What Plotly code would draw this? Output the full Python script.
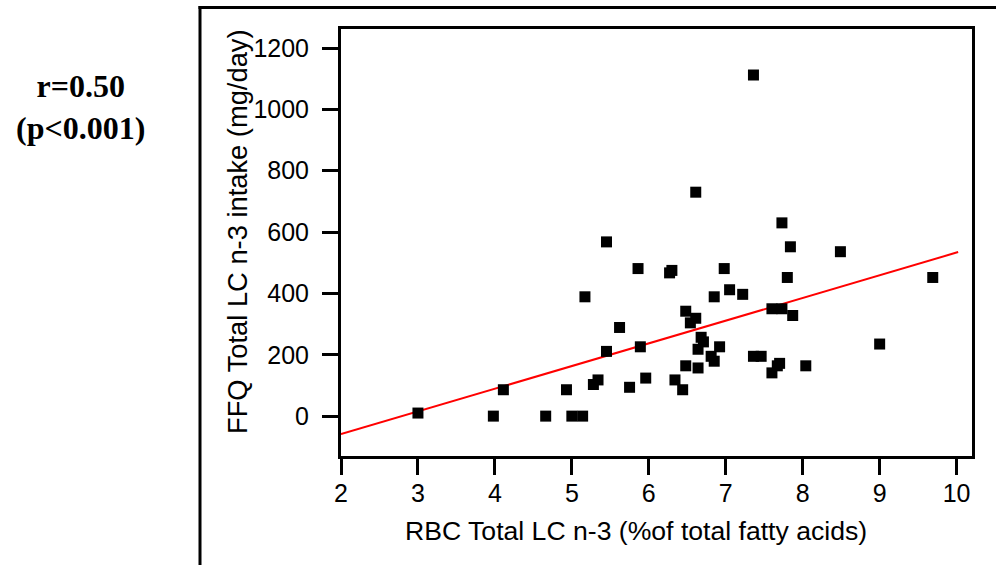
import plotly.graph_objects as go

# ---- data ----
rbc_lc_n3 = [3.0, 3.98, 4.11, 4.66, 4.93, 5.0, 5.14, 5.17, 5.28, 5.34,
             5.45, 5.45, 5.62, 5.75, 5.86, 5.89, 5.96, 6.27, 6.30, 6.34,
             6.44, 6.48, 6.48, 6.54, 6.61, 6.61, 6.64, 6.64, 6.68, 6.71,
             6.81, 6.85, 6.85, 6.92, 6.98, 7.05, 7.22, 7.36, 7.36, 7.46,
             7.60, 7.60, 7.67, 7.70, 7.73, 7.73, 7.80, 7.84, 7.87, 8.04,
             8.49, 9.0, 9.69]
ffq_lc_n3 = [10, 0, 86, 0, 86, 0, 0, 389, 103, 118,
             568, 211, 289, 94, 481, 226, 124, 467, 475, 118,
             86, 164, 342, 304, 730, 319, 157, 218, 257, 242,
             195, 389, 179, 226, 481, 412, 397, 1112, 195, 195,
             350, 141, 164, 172, 630, 350, 452, 552, 328, 164,
             536, 235, 452]

fit_slope = 74.0
fit_intercept = -206.7
fit_x_range = [2.0, 10.02]

x_ticks = [2, 3, 4, 5, 6, 7, 8, 9, 10]
y_ticks = [0, 200, 400, 600, 800, 1000, 1200]
x_range = [2.0, 10.2]
y_range = [-130, 1262]

x_title = "RBC Total LC n-3 (%of total fatty acids)"
y_title = "FFQ Total LC n-3 intake (mg/day)"
stat_lines = ["r=0.50", "(p<0.001)"]

# ---- layout geometry (body margin removed by post_script) ----
W, H = 996, 565
ML, MR, MT, MB = 341, 24, 29, 109
PW, PH = W - ML - MR, H - MT - MB


def px_x(px):
    return (px - ML) / PW


def px_y(py):
    return (H - MB - py) / PH


fit_y = [fit_intercept + fit_slope * v for v in fit_x_range]

fig = go.Figure()
fig.add_trace(go.Scatter(
    x=fit_x_range, y=fit_y, mode="lines",
    line=dict(color="#ff0000", width=2), showlegend=False, hoverinfo="skip"))
fig.add_trace(go.Scatter(
    x=rbc_lc_n3, y=ffq_lc_n3, mode="markers",
    marker=dict(symbol="square", size=11, color="black", line=dict(width=0)),
    showlegend=False))

sans = "Liberation Sans, Arial, sans-serif"
axis_common = dict(
    showline=True, linewidth=3, linecolor="black", mirror=True,
    ticks="outside", ticklen=16, tickwidth=3, tickcolor="black",
    showgrid=False, zeroline=False,
    tickfont=dict(family=sans, size=25, color="black"),
)

fig.update_xaxes(range=x_range, tickvals=x_ticks, ticktext=[str(v) for v in x_ticks],
                 ticklabelstandoff=-3, **axis_common)
fig.update_yaxes(range=y_range, tickvals=y_ticks, ticktext=[str(v) for v in y_ticks],
                 ticklabelstandoff=8, **axis_common)

annotations = [
    dict(text=x_title, x=px_x(636), y=px_y(531), xref="paper", yref="paper",
         showarrow=False, xanchor="center", yanchor="middle",
         font=dict(family=sans, size=26.6, color="black")),
    dict(text=y_title, x=px_x(237), y=px_y(232), xref="paper", yref="paper",
         showarrow=False, xanchor="center", yanchor="middle", textangle=-90,
         font=dict(family=sans, size=27.3, color="black")),
    dict(text="<br>".join("<b>" + s + "</b>" for s in stat_lines),
         x=px_x(80), y=px_y(107), xref="paper", yref="paper",
         showarrow=False, xanchor="center", yanchor="middle", align="center",
         font=dict(family="Liberation Serif, Times New Roman, serif", size=32, color="black")),
]

shapes = [
    dict(type="line", xref="paper", yref="paper",
         x0=px_x(200), x1=px_x(200), y0=px_y(6), y1=px_y(570),
         line=dict(color="black", width=3)),
    dict(type="line", xref="paper", yref="paper",
         x0=px_x(198.5), x1=px_x(1000), y0=px_y(7.5), y1=px_y(7.5),
         line=dict(color="black", width=3)),
]

fig.update_layout(
    width=W, height=H,
    margin=dict(l=ML, r=MR, t=MT, b=MB),
    paper_bgcolor="white", plot_bgcolor="white",
    annotations=annotations, shapes=shapes,
    showlegend=False,
)

fig.write_html("out.html", config={"displayModeBar": False},
               post_script="document.body.style.margin='0px';document.body.style.overflow='hidden';")
